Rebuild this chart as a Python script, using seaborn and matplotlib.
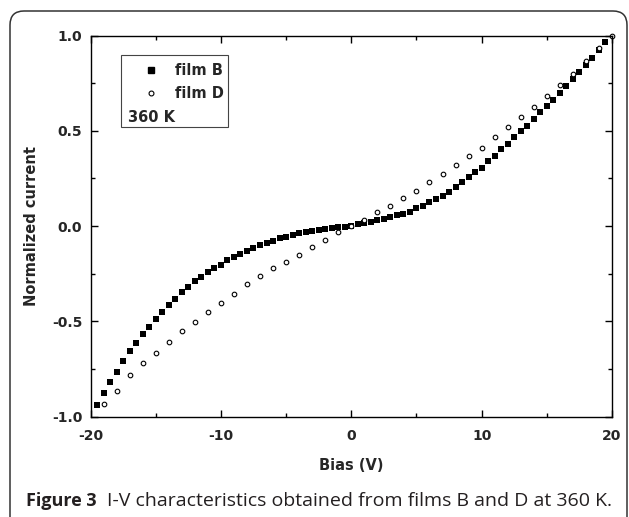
import numpy as np
import pandas as pd
import matplotlib
matplotlib.use('Agg')
import matplotlib.pyplot as plt
from matplotlib.patches import FancyBboxPatch, Rectangle
from matplotlib.lines import Line2D
from matplotlib.transforms import IdentityTransform
from matplotlib.ticker import MultipleLocator, FormatStrFormatter
import seaborn as sns

# Data
bias_b = np.arange(-19.5, 20.0, 0.5)
current_b = [-0.938, -0.879, -0.818, -0.765, -0.711, -0.658, -0.612, -0.568,
             -0.528, -0.488, -0.449, -0.414, -0.381, -0.349, -0.319, -0.291,
             -0.268, -0.244, -0.222, -0.204, -0.181, -0.165, -0.147, -0.132,
             -0.116, -0.102, -0.088, -0.077, -0.065, -0.058, -0.047, -0.039,
             -0.032, -0.026, -0.019, -0.016, -0.011, -0.005, -0.004, 0.0,
             0.009, 0.018, 0.023, 0.030, 0.037, 0.046, 0.056, 0.065, 0.075,
             0.093, 0.105, 0.125, 0.142, 0.160, 0.179, 0.205, 0.230, 0.256,
             0.281, 0.305, 0.340, 0.368, 0.402, 0.430, 0.465, 0.498, 0.525,
             0.563, 0.598, 0.632, 0.663, 0.700, 0.737, 0.772, 0.811, 0.847,
             0.882, 0.926, 0.967]
bias_d = np.arange(-19, 21, 1)
current_d = [-0.932, -0.865, -0.781, -0.718, -0.665, -0.607, -0.553, -0.504,
             -0.453, -0.405, -0.356, -0.305, -0.265, -0.223, -0.188, -0.153,
             -0.112, -0.072, -0.033, 0.0, 0.032, 0.072, 0.107, 0.146, 0.186,
             0.230, 0.274, 0.319, 0.365, 0.412, 0.465, 0.518, 0.572, 0.625,
             0.681, 0.742, 0.800, 0.865, 0.935, 1.0]

df_b = pd.DataFrame({'bias': bias_b, 'current': current_b})
df_d = pd.DataFrame({'bias': bias_d, 'current': current_d})

sns.set_style('ticks')
plt.rcParams['font.family'] = ['DejaVu Sans']
plt.rcParams['axes.unicode_minus'] = False

W, H = 629, 517
fig = plt.figure(figsize=(W / 100, H / 100), dpi=100)
ax = fig.add_axes([90.5 / W, 1 - 416.5 / H, (612 - 90.5) / W, (416.5 - 35.5) / H])

sns.scatterplot(data=df_b, x='bias', y='current', ax=ax, marker='s', s=20,
                color='black', edgecolor='black', linewidth=0, clip_on=False)
sns.scatterplot(data=df_d, x='bias', y='current', ax=ax, marker='o', s=11,
                facecolor='white', edgecolor='black', linewidth=0.8, clip_on=False)

ax.set_xlim(-20, 20)
ax.set_ylim(-1.0, 1.0)
ax.xaxis.set_major_locator(MultipleLocator(10))
ax.xaxis.set_minor_locator(MultipleLocator(5))
ax.yaxis.set_major_locator(MultipleLocator(0.5))
ax.yaxis.set_minor_locator(MultipleLocator(0.25))
ax.yaxis.set_major_formatter(FormatStrFormatter('%.1f'))
ax.tick_params(which='both', direction='in', top=True, right=True, width=1.0,
               color='black')
ax.tick_params(which='major', length=5, labelsize=10)
ax.tick_params(which='minor', length=3)
ax.tick_params(axis='x', which='major', pad=9)
ax.tick_params(axis='y', which='major', pad=6)
for lab in ax.get_xticklabels() + ax.get_yticklabels():
    lab.set_fontweight('bold')
for sp in ax.spines.values():
    sp.set_linewidth(1.0)
    sp.set_color('black')

ax.set_xlabel('Bias (V)', fontsize=10.5, fontweight='bold')
ax.set_ylabel('Normalized current', fontsize=10.5, fontweight='bold')
ax.xaxis.set_label_coords(0.5, -0.109)
ax.yaxis.set_label_coords(-0.0997, 0.5)

# legend box with temperature note
box = Rectangle((0.058, 0.759), 0.206, 0.189, transform=ax.transAxes,
                facecolor='white', edgecolor='#444444', linewidth=0.8, zorder=3)
ax.add_patch(box)
handles = [Line2D([], [], marker='s', color='black', linestyle='none', markersize=4.5),
           Line2D([], [], marker='o', markerfacecolor='white', markeredgecolor='black',
                  linestyle='none', markersize=3.5, markeredgewidth=0.8)]
leg = ax.legend(handles, ['film B', 'film D'], loc='upper left',
                bbox_to_anchor=(0.076, 0.955), frameon=False, handlelength=1.5,
                handletextpad=0.9, labelspacing=0.55, borderpad=0.2,
                prop={'weight': 'bold', 'size': 10.5})
leg.set_zorder(4)
ax.text(0.071, 0.773, '360 K', transform=ax.transAxes, fontsize=10.5,
        fontweight='bold', zorder=4, va='baseline')

# outer rounded frame
frame = FancyBboxPatch((10, -30), 617, H - 11 + 30,
                       boxstyle='round,pad=0,rounding_size=14',
                       transform=IdentityTransform(), facecolor='none',
                       edgecolor='#333333', linewidth=1.1)
fig.patches.append(frame)

# caption
cap_col = '#231f20'
base_y = 1 - 506 / H
t1 = fig.text(26 / W, base_y, 'Figure 3', fontsize=13, fontweight='bold',
              family=['Open Sans', 'DejaVu Sans'], color=cap_col, va='baseline')
fig.canvas.draw()
bb = t1.get_window_extent(fig.canvas.get_renderer())
fig.text((bb.x1 + 10) / W, base_y,
         'I-V characteristics obtained from films B and D at 360 K.',
         fontsize=14, family=['Open Sans', 'DejaVu Sans'], color=cap_col,
         va='baseline')

fig.savefig('out.png', dpi=100)
